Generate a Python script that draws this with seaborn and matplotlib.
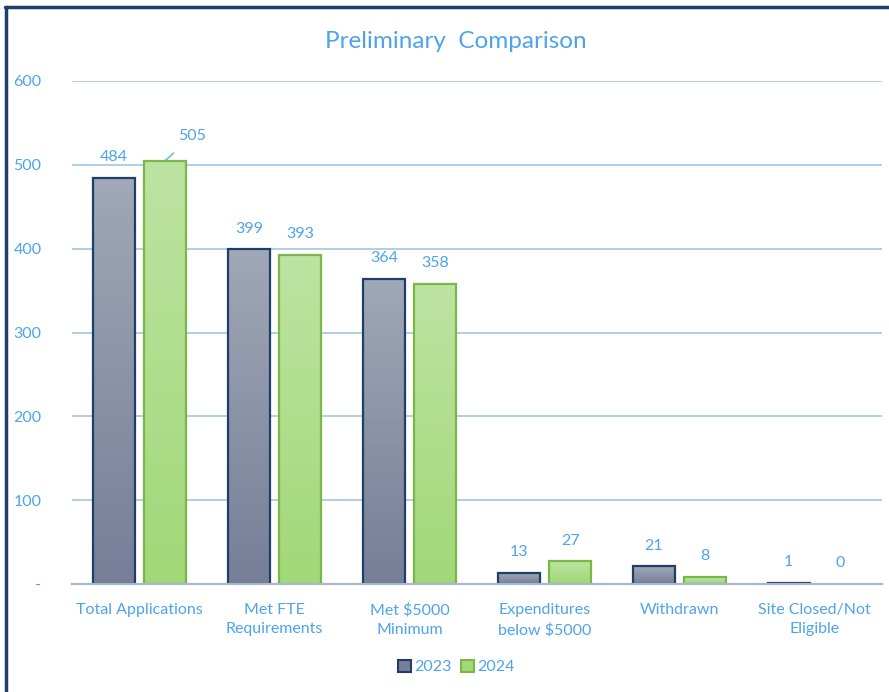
import numpy as np
import pandas as pd
import matplotlib
matplotlib.use("Agg")
import matplotlib.pyplot as plt
from matplotlib.patches import Rectangle
from matplotlib.lines import Line2D
import seaborn as sns

CATEGORIES = ["Total Applications", "Met FTE\nRequirements", "Met $5000\nMinimum",
              "Expenditures\nbelow $5000", "Withdrawn", "Site Closed/Not\nEligible"]
YEARS = ["2023", "2024"]
VALS_2023 = [484, 399, 364, 13, 21, 1]
VALS_2024 = [505, 393, 358, 27, 8, 0]
YTICKS = [0, 100, 200, 300, 400, 500, 600]
YTICK_LABELS = ["-", "100", "200", "300", "400", "500", "600"]

TXT = "#4DA3EC"
EDGE = {"2023": "#1F3F66", "2024": "#7AB648"}
GRAD = {"2023": ("#A0A7B6", "#767F98"), "2024": ("#BDE3A2", "#A2D878")}

df = pd.DataFrame({
    "category": CATEGORIES * 2,
    "year": [YEARS[0]] * len(CATEGORIES) + [YEARS[1]] * len(CATEGORIES),
    "value": VALS_2023 + VALS_2024,
})

sns.set_theme(style="white")
plt.rcParams["font.family"] = ["Lato", "DejaVu Sans"]

fig = plt.figure(figsize=(8.89, 6.92), dpi=100)
ax = fig.add_axes([0.081, 0.156, 0.911, 0.727])
sns.barplot(data=df, x="category", y="value", hue="year", order=CATEGORIES,
            hue_order=YEARS, width=0.76, gap=0.18, palette=["#8E96A8", "#B2DE94"],
            ax=ax, legend=False, zorder=3)

ax.set_ylim(0, 600)
ax.set_xlim(-0.5, len(CATEGORIES) - 0.5)
ax.set_yticks(YTICKS)
ax.set_yticklabels(YTICK_LABELS)
ax.yaxis.grid(True, color="#A9CCE4", lw=1.3, zorder=0)
ax.set_axisbelow(True)
for s in ["top", "right", "left"]:
    ax.spines[s].set_visible(False)
ax.spines["bottom"].set_color("#A6B9CC")
ax.spines["bottom"].set_linewidth(1.6)
ax.spines["bottom"].set_zorder(5)
ax.tick_params(axis="both", length=0, labelsize=11.5, labelcolor=TXT)
ax.tick_params(axis="y", pad=22)
ax.tick_params(axis="x", pad=14)
for lab in ax.get_xticklabels():
    lab.set_linespacing(1.45)
ax.set_xlabel("")
ax.set_ylabel("")

# gradient fill + outlines, and value labels
bars = [p for p in ax.patches if p.get_width() > 0]
for i, p in enumerate(bars):
    yr = YEARS[i // len(CATEGORIES)]
    x0, w, h = p.get_x(), p.get_width(), p.get_height()
    p.set_edgecolor(EDGE[yr])
    p.set_linewidth(1.6)
    top_c, bot_c = [np.array(matplotlib.colors.to_rgb(c)) for c in GRAD[yr]]
    t = np.linspace(0, 1, 64)[:, None]
    img = (top_c * (1 - t) + bot_c * t)[:, None, :]
    if h > 0:
        im = ax.imshow(img, extent=[x0, x0 + w, 0, h], origin="upper",
                       aspect="auto", zorder=3.5)
        im.set_clip_path(p)
        p.set_facecolor("none")
        p.set_zorder(4)
    else:
        p.set_visible(False)
    val = int(h)
    cx = x0 + w / 2
    if val == 505:
        ax.annotate(str(val), xy=(cx, h), xytext=(cx + 0.2, h + 29),
                    ha="center", va="center", color=TXT, fontsize=11.5,
                    arrowprops=dict(arrowstyle="-", color="#7FBDEB", lw=1.3,
                                    shrinkA=7, shrinkB=0))
    else:
        ax.annotate(str(val), xy=(cx, h), xytext=(0, 10), textcoords="offset points",
                    ha="center", va="bottom", color=TXT, fontsize=11.5)
ax.set_xlim(-0.5, len(CATEGORIES) - 0.5)
ax.set_ylim(0, 600)

fig.text(0.513, 0.94, "Preliminary  Comparison", ha="center", va="center",
         color=TXT, fontsize=17.5)

handles = [Rectangle((0, 0), 1, 1, facecolor=GRAD[y][1], edgecolor=EDGE[y], lw=1.5)
           for y in YEARS]
fig.legend(handles, YEARS, loc="center", bbox_to_anchor=(0.513, 0.036), ncol=2,
           frameon=False, fontsize=11.5, labelcolor=TXT, handlelength=0.8,
           handleheight=0.8, handletextpad=0.2, columnspacing=0.6)

# outer frame (left and top edges visible)
fig.add_artist(Line2D([0.007, 0.007], [0, 0.99], color="#1F3F66", lw=2.5,
                      transform=fig.transFigure))
fig.add_artist(Line2D([0.006, 1.0], [0.99, 0.99], color="#1F3F66", lw=2.5,
                      transform=fig.transFigure))

fig.savefig("out.png", dpi=100, facecolor="white")
